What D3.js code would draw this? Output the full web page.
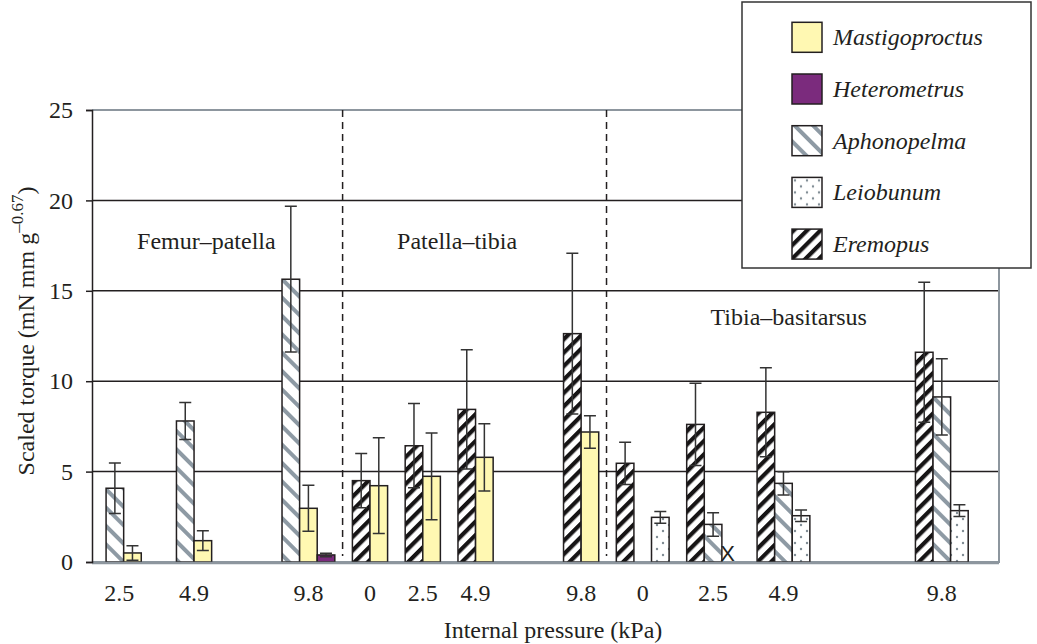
<!DOCTYPE html>
<html>
<head>
<meta charset="utf-8">
<script src="https://cdn.jsdelivr.net/npm/d3@7"></script>
<style>
  html, body { margin: 0; padding: 0; background: #fff; }
  svg { display: block; font-family: "Liberation Serif", "Times New Roman", serif; }
</style>
</head>
<body>
<svg id="chart" width="1037" height="644"></svg>
<script>
// Series, in legend order.
const seriesNames = ["Mastigoproctus", "Heterometrus", "Aphonopelma", "Leiobunum", "Eremopus"];

// Joints and the series shown for each, in bar order.
const joints = ["Femur–patella", "Patella–tibia", "Tibia–basitarsus"];
const jointSeries = [
  ["Aphonopelma", "Mastigoproctus", "Heterometrus"],
  ["Eremopus", "Mastigoproctus"],
  ["Eremopus", "Aphonopelma", "Leiobunum"]
];

// Pressure groups along the x axis.
const groupJoint = [0, 0, 0, 1, 1, 1, 1, 2, 2, 2, 2];
const groupPressure = ["2.5", "4.9", "9.8", "0", "2.5", "4.9", "9.8", "0", "2.5", "4.9", "9.8"];
// first bar slot of each group, counted in bar widths
const groupSlot = [0, 4, 10, 14, 17, 20, 26, 29, 33, 37, 46];
// where each tick label sits, in the same slot units
const tickSlot = [0.75, 5, 11.5, 15, 18, 21, 27, 30.5, 34.5, 38.5, 47.5];

// Means and error bars, one entry per group (null = not measured).
const mastigoproctusMean = [0.5, 1.18, 2.97, 4.22, 4.74, 5.79, 7.19, null, null, null, null];
const mastigoproctusErr  = [0.4, 0.55, 1.27, 2.65, 2.4, 1.86, 0.9, null, null, null, null];
const heterometrusMean   = [null, null, 0.39, null, null, null, null, null, null, null, null];
const heterometrusErr    = [null, null, 0.1, null, null, null, null, null, null, null, null];
const aphonopelmaMean    = [4.08, 7.8, 15.64, null, null, null, null, null, 2.08, 4.35, 9.13];
const aphonopelmaErr     = [1.4, 1.02, 4.03, null, null, null, null, null, 0.65, 0.64, 2.11];
const leiobunumMean      = [null, null, null, null, null, null, null, 2.47, null, 2.56, 2.84];
const leiobunumErr       = [null, null, null, null, null, null, null, 0.32, null, 0.32, 0.33];
const eremopusMean       = [null, null, null, 4.5, 6.43, 8.44, 12.63, 5.46, 7.61, 8.28, 11.6];
const eremopusErr        = [null, null, null, 1.5, 2.33, 3.3, 4.45, 1.17, 2.27, 2.46, 3.87];

// Bars marked as missing with an "X": [series, group]
const missingMarks = [["Leiobunum", 8]];

const yTicks = [0, 5, 10, 15, 20, 25];

const means = {
  Mastigoproctus: mastigoproctusMean, Heterometrus: heterometrusMean,
  Aphonopelma: aphonopelmaMean, Leiobunum: leiobunumMean, Eremopus: eremopusMean
};
const errs = {
  Mastigoproctus: mastigoproctusErr, Heterometrus: heterometrusErr,
  Aphonopelma: aphonopelmaErr, Leiobunum: leiobunumErr, Eremopus: eremopusErr
};

const plot = { left: 92, right: 999, top: 110, bottom: 562 };
const ink = "#231f20";
const frameGrey = "#8d969e";

const svg = d3.select("#chart");

const x = d3.scaleLinear().domain([-0.8, 50.75]).range([plot.left, plot.right]);
const y = d3.scaleLinear().domain([0, 25]).range([plot.bottom, plot.top]);

// Patterns.
const defs = svg.append("defs");

function stripes(id, angle, period, width, color) {
  const p = defs.append("pattern").attr("id", id)
    .attr("patternUnits", "userSpaceOnUse")
    .attr("width", period).attr("height", period)
    .attr("patternTransform", `rotate(${angle})`);
  p.append("rect").attr("width", period).attr("height", period).attr("fill", "#fff");
  p.append("rect").attr("x", 0).attr("width", width).attr("height", period).attr("fill", color);
}
stripes("pat-aphono", -45, 13, 4, "#8e9aa4");
stripes("pat-eremo", 45, 9.5, 4.2, "#161415");

const dots = defs.append("pattern").attr("id", "pat-leio")
  .attr("patternUnits", "userSpaceOnUse").attr("width", 12).attr("height", 12);
dots.append("rect").attr("width", 12).attr("height", 12).attr("fill", "#fff");
dots.append("circle").attr("cx", 3).attr("cy", 3).attr("r", 1.2).attr("fill", "#7f8b94");
dots.append("circle").attr("cx", 9).attr("cy", 9).attr("r", 1.2).attr("fill", "#7f8b94");

const fills = {
  Mastigoproctus: "#fff8b2",
  Heterometrus: "#7b2b7d",
  Aphonopelma: "url(#pat-aphono)",
  Leiobunum: "url(#pat-leio)",
  Eremopus: "url(#pat-eremo)"
};

// Gridlines.
svg.append("g").selectAll("line")
  .data(yTicks.filter(d => d > 0 && d < 25))
  .join("line")
  .attr("x1", plot.left).attr("x2", plot.right)
  .attr("y1", d => y(d)).attr("y2", d => y(d))
  .attr("stroke", ink).attr("stroke-width", 1.5);

// Frame (top, right, bottom) in grey.
svg.append("path")
  .attr("d", `M${plot.left},${plot.top}H${plot.right}V${plot.bottom}H${plot.left}`)
  .attr("fill", "none").attr("stroke", frameGrey).attr("stroke-width", 2);

// Dashed dividers between joints.
const dividers = [];
for (let g = 1; g < groupJoint.length; g++) {
  if (groupJoint[g] !== groupJoint[g - 1]) {
    const prevEnd = groupSlot[g - 1] + jointSeries[groupJoint[g - 1]].length;
    dividers.push((prevEnd + groupSlot[g]) / 2);
  }
}
svg.append("g").selectAll("line").data(dividers).join("line")
  .attr("x1", d => x(d) - 1).attr("x2", d => x(d) - 1)
  .attr("y1", plot.top).attr("y2", plot.bottom - 6)
  .attr("stroke", ink).attr("stroke-width", 1.5).attr("stroke-dasharray", "7,5");

// Bars.
const bars = [];
groupJoint.forEach((j, g) => {
  jointSeries[j].forEach((s, k) => {
    const v = means[s][g];
    if (v == null) return;
    bars.push({ series: s, slot: groupSlot[g] + k, value: v, err: errs[s][g] });
  });
});

svg.append("g").selectAll("rect").data(bars).join("rect")
  .attr("x", d => x(d.slot))
  .attr("width", d => x(d.slot + 1) - x(d.slot))
  .attr("y", d => y(d.value))
  .attr("height", d => y(0) - y(d.value))
  .attr("fill", d => fills[d.series])
  .attr("stroke", ink).attr("stroke-width", 1.5);

// Error bars.
const eb = svg.append("g").attr("stroke", "#333").attr("stroke-width", 1.5).attr("fill", "none");
eb.selectAll("path").data(bars).join("path")
  .attr("d", d => {
    const cx = (x(d.slot) + x(d.slot + 1)) / 2;
    const hi = y(d.value + d.err), lo = y(d.value - d.err);
    return `M${cx},${hi}V${lo}M${cx - 6},${hi}H${cx + 6}M${cx - 6},${lo}H${cx + 6}`;
  });

// Missing markers.
svg.append("g").selectAll("text").data(missingMarks).join("text")
  .attr("x", d => {
    const g = d[1];
    const k = jointSeries[groupJoint[g]].indexOf(d[0]);
    return (x(groupSlot[g] + k) + x(groupSlot[g] + k + 1)) / 2 - 3;
  })
  .attr("y", y(0) - 1)
  .attr("text-anchor", "middle")
  .attr("font-family", "Liberation Sans, Arial, sans-serif")
  .attr("font-size", 22).attr("fill", ink)
  .text("X");

// Bottom axis line.
svg.append("line")
  .attr("x1", plot.left).attr("x2", plot.right)
  .attr("y1", plot.bottom + 1).attr("y2", plot.bottom + 1)
  .attr("stroke", frameGrey).attr("stroke-width", 2.5);

// Left axis.
const yAxis = svg.append("g").attr("transform", `translate(${plot.left},0)`)
  .call(d3.axisLeft(y).tickValues(yTicks).tickSize(6).tickPadding(13).tickFormat(d3.format("d")));
yAxis.select(".domain").attr("stroke", ink).attr("stroke-width", 1.5);
yAxis.selectAll(".tick line").attr("stroke", ink).attr("stroke-width", 1.5);
yAxis.selectAll(".tick text")
  .attr("font-family", "Liberation Serif, Times New Roman, serif")
  .attr("font-size", 24).attr("fill", ink);

// X tick labels.
svg.append("g").selectAll("text").data(groupPressure).join("text")
  .attr("x", (d, i) => x(tickSlot[i]))
  .attr("y", 601)
  .attr("text-anchor", "middle")
  .attr("font-size", 24).attr("fill", ink)
  .text(d => d);

// Joint labels.
const jointLabelPos = [[5.7, 17.3], [19.95, 17.3], [38.8, 13.1]];
svg.append("g").selectAll("text").data(joints).join("text")
  .attr("x", (d, i) => x(jointLabelPos[i][0]))
  .attr("y", (d, i) => y(jointLabelPos[i][1]))
  .attr("text-anchor", "middle")
  .attr("font-size", 24).attr("fill", ink)
  .text(d => d);

// Axis titles.
svg.append("text")
  .attr("x", 553).attr("y", 638)
  .attr("text-anchor", "middle")
  .attr("font-size", 24).attr("fill", ink)
  .text("Internal pressure (kPa)");

const yt = svg.append("text")
  .attr("transform", "translate(34,331) rotate(-90)")
  .attr("text-anchor", "middle")
  .attr("font-size", 24).attr("fill", ink);
yt.append("tspan").text("Scaled torque (mN mm g");
yt.append("tspan").attr("font-size", 17).attr("dy", -11).text("–0.67");
yt.append("tspan").attr("dy", 11).text(")");

// Legend.
const legend = svg.append("g");
legend.append("rect")
  .attr("x", 742).attr("y", 2).attr("width", 289).attr("height", 266)
  .attr("fill", "#fff").attr("stroke", "#333").attr("stroke-width", 1.5);
const rows = legend.selectAll("g.row").data(seriesNames).join("g")
  .attr("class", "row")
  .attr("transform", (d, i) => `translate(792,${22.3 + i * 51.7})`);
rows.append("rect")
  .attr("width", 30).attr("height", 30)
  .attr("fill", d => fills[d])
  .attr("stroke", ink).attr("stroke-width", 1.5);
rows.append("text")
  .attr("x", 41).attr("y", 23)
  .attr("font-size", 24).attr("font-style", "italic").attr("fill", ink)
  .text(d => d);
</script>
</body>
</html>
